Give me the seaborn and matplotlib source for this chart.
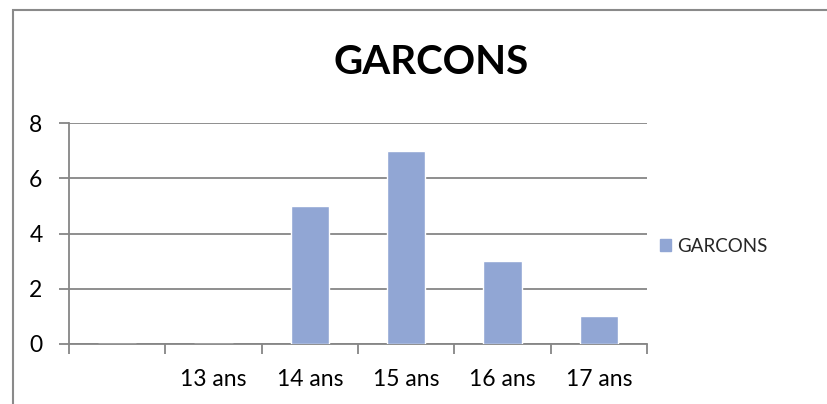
import matplotlib
matplotlib.use("Agg")
import matplotlib.pyplot as plt
import seaborn as sns
import pandas as pd
from matplotlib.patches import Rectangle, Patch

categories = [" ", "13 ans", "14 ans", "15 ans", "16 ans", "17 ans"]
garcons = [0, 0, 5, 7, 3, 1]
yticks = [0, 2, 4, 6, 8]
series_name = "GARCONS"
title = "GARCONS"

sns.set_theme(style="white")
plt.rcParams['font.family'] = ['Lato', 'DejaVu Sans']

df = pd.DataFrame({"cat": categories, "val": garcons})

fig = plt.figure(figsize=(8.28, 4.04), dpi=100)
ax = fig.add_axes([69/828, 1-344/404, (647-69)/828, (344-123)/404])

color = "#91A6D4"
grey = "#868686"
sns.barplot(data=df, x="cat", y="val", color=color, width=0.4, ax=ax,
            saturation=1, zorder=3, order=categories)

ax.set_xlim(-0.5, len(categories) - 0.5)
ax.set_ylim(0, 8)
ax.set_yticks(yticks)
ax.set_xlabel("")
ax.set_ylabel("")
ax.grid(axis="y", color=grey, linewidth=1.3, zorder=0)
ax.grid(axis="x", visible=False)
for s in ["top", "right"]:
    ax.spines[s].set_visible(False)
for s in ["left", "bottom"]:
    ax.spines[s].set_color(grey)
    ax.spines[s].set_linewidth(1.3)
ax.tick_params(axis="y", length=7, width=1.3, color=grey, labelsize=16.5, pad=12, left=True)
ax.tick_params(axis="x", which="major", length=0, labelsize=16.5, pad=18)
ax.set_xticks([i - 0.5 for i in range(len(categories) + 1)], minor=True)
ax.tick_params(axis="x", which="minor", length=7, width=1.3, color=grey, bottom=True)
for lbl in ax.get_xticklabels() + ax.get_yticklabels():
    lbl.set_color("black")

fig.text(431/828, 1-62/404, title, ha="center", va="center",
         fontsize=29, fontweight="bold", color="black")

handle = Patch(facecolor=color, edgecolor=color)
fig.legend([handle], [series_name], loc="center left",
           bbox_to_anchor=(652/828, 1-246/404), frameon=False,
           fontsize=13.5, handlelength=0.6, handleheight=0.6, handletextpad=0.35,
           borderaxespad=0)

border = Rectangle((13/828, -0.1), 1.2, 1-10/404 + 0.1, transform=fig.transFigure,
                   fill=False, edgecolor="#8a8a8a", linewidth=1.5)
fig.add_artist(border)

fig.savefig("out.png", dpi=100, facecolor="white")
